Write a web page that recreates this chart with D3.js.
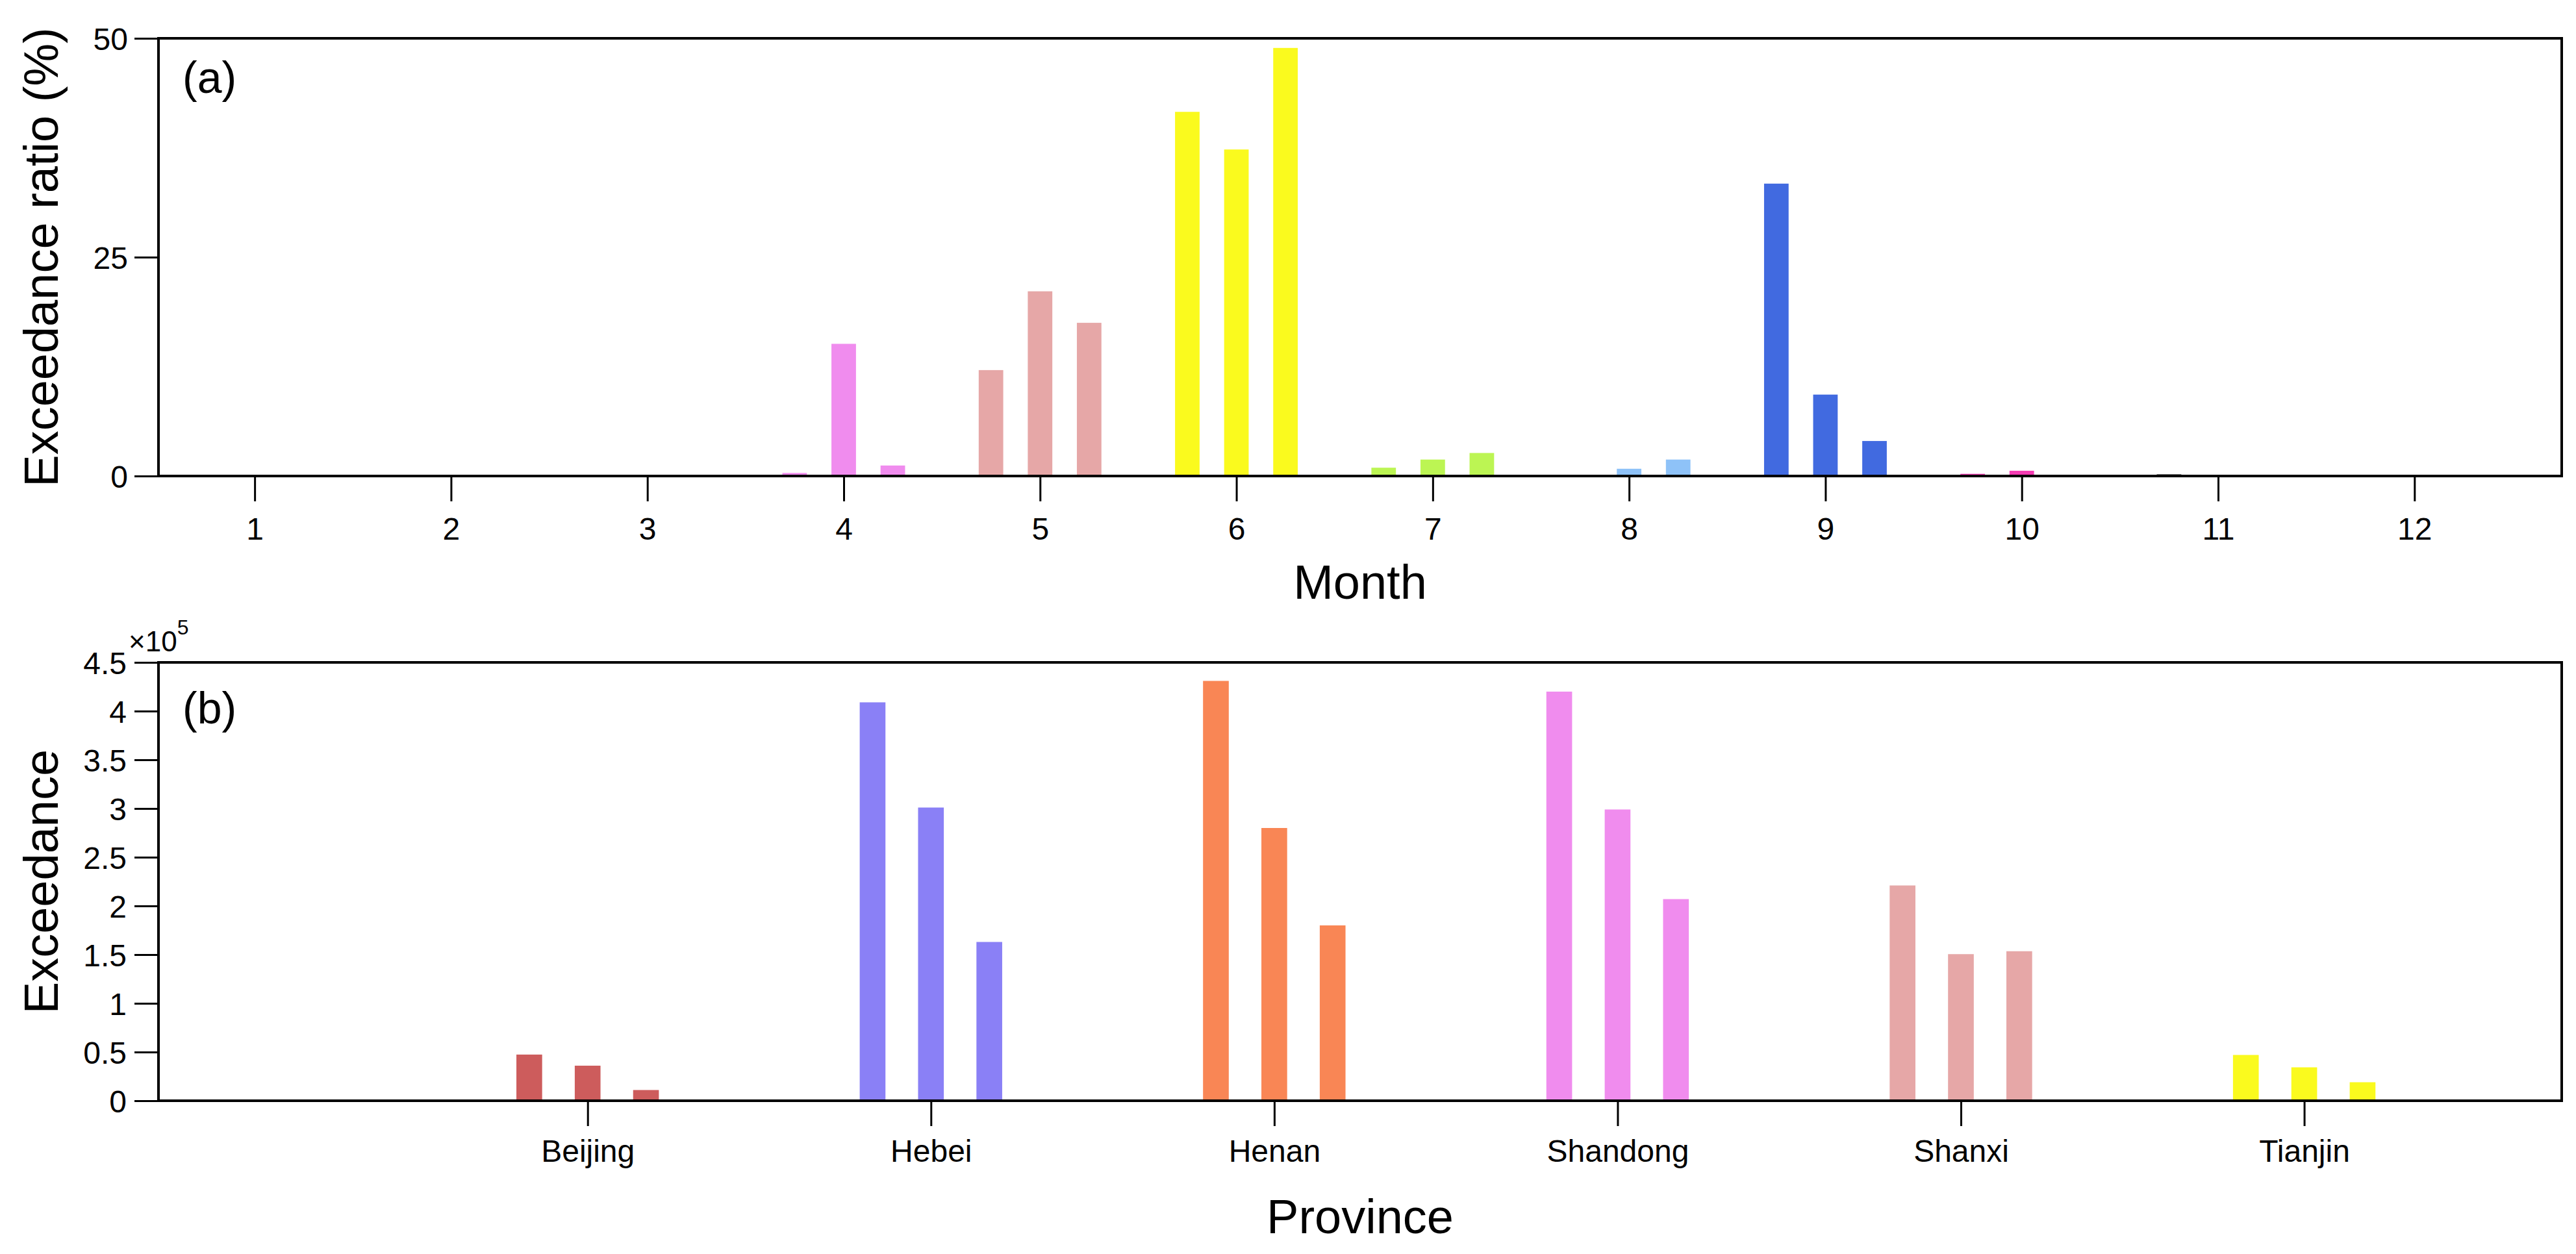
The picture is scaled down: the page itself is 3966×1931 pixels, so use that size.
<!DOCTYPE html>
<html>
    <head>
        <meta charset="UTF-8">
        <title>exceedance</title>
        <style type="text/css">
            body {
                margin: 0;
                background: #ffffff;
            }
            #chart text {
                font-family: "Liberation Sans", Arial, sans-serif;
                fill: #000000;
            }
        </style>
        <script src="https://d3js.org/d3.v7.min.js"></script>
    </head>
    <body>
        <div id="chart"></div>
        <script>
            // panel (a): exceedance ratio (%) per month, three bars per month
            const months = [1, 2, 3, 4, 5, 6, 7, 8, 9, 10, 11, 12];
            const ratioFirst  = [0, 0, 0, 0.35, 12.1, 41.6, 0.95, 0, 33.4, 0.25, 0.2, 0];
            const ratioSecond = [0, 0, 0, 15.1, 21.1, 37.3, 1.88, 0.83, 9.3, 0.6, 0, 0];
            const ratioThird  = [0, 0, 0, 1.2, 17.5, 48.9, 2.63, 1.88, 4.0, 0, 0, 0];
            const monthColors = ["#9a9a9a", "#9a9a9a", "#9a9a9a", "#f08cee", "#e6a7a7", "#fafa1e",
                                 "#bcf553", "#8ec2f8", "#416ae0", "#f43bb2", "#3a3a3a", "#9a9a9a"];
            const ratioTicks = [0, 25, 50];

            // panel (b): exceedance per province, three bars per province
            const provinces = ["Beijing", "Hebei", "Henan", "Shandong", "Shanxi", "Tianjin"];
            const excFirst  = [47400, 409000, 431000, 420000, 221000, 47000];
            const excSecond = [36000, 301000, 280000, 299000, 150500, 34300];
            const excThird  = [11000, 163000, 180000, 207000, 153500, 19000];
            const provinceColors = ["#cd5c5c", "#8a80f6", "#f98655", "#f08cee", "#e6a7a7", "#fafa1e"];
            const excTicks = [0, 50000, 100000, 150000, 200000, 250000, 300000, 350000, 400000, 450000];

            const W = 3966, H = 1931;
            const left = 244, right = 3944;

            const svg = d3.select("#chart").append("svg")
                .attr("width", W)
                .attr("height", H);

            function styleAxis(g) {
                g.select(".domain").remove();
                g.selectAll(".tick line").attr("stroke", "#000").attr("stroke-width", 3);
                g.selectAll(".tick text").attr("font-size", 48).attr("fill", "#000");
            }

            function drawBars(g, keys, series, offsets, colors, x, y, halfW) {
                series.forEach((vals, s) => {
                    g.selectAll(null)
                        .data(keys.map((k, i) => ({ k: k, v: vals[i], c: colors[i] })))
                        .enter().append("rect")
                        .attr("x", d => x(d.k + offsets[s] - halfW))
                        .attr("width", d => x(d.k + offsets[s] + halfW) - x(d.k + offsets[s] - halfW))
                        .attr("y", d => y(d.v))
                        .attr("height", d => y(0) - y(d.v))
                        .attr("fill", d => d.c);
                });
            }

            // ---------- panel (a) ----------
            const xa = d3.scaleLinear().domain([0.51, 12.75]).range([left, right]);
            const ya = d3.scaleLinear().domain([0, 50]).range([733, 59]);
            const ga = svg.append("g");

            drawBars(ga, months, [ratioFirst, ratioSecond, ratioThird], [-0.25, 0, 0.25],
                     monthColors, xa, ya, 0.0625);

            ga.append("g")
                .attr("transform", `translate(0, ${ya(0)})`)
                .call(d3.axisBottom(xa).tickValues(months).tickSize(39).tickPadding(25).tickFormat(d3.format("d")))
                .call(styleAxis);
            ga.append("g")
                .attr("transform", `translate(${left}, 0)`)
                .call(d3.axisLeft(ya).tickValues(ratioTicks).tickSize(37).tickPadding(10))
                .call(styleAxis)
                .selectAll(".tick text").attr("dy", "0.36em");

            ga.append("rect")
                .attr("x", left).attr("y", ya(50))
                .attr("width", right - left).attr("height", ya(0) - ya(50))
                .attr("fill", "none").attr("stroke", "#000").attr("stroke-width", 4);

            ga.append("text")
                .attr("x", 281).attr("y", 143)
                .attr("font-size", 68)
                .text("(a)");
            ga.append("text")
                .attr("x", (left + right) / 2).attr("y", 922)
                .attr("text-anchor", "middle")
                .attr("font-size", 74)
                .text("Month");
            ga.append("text")
                .attr("transform", `translate(89, ${(ya(0) + ya(50)) / 2}) rotate(-90)`)
                .attr("text-anchor", "middle")
                .attr("font-size", 74)
                .text("Exceedance ratio (%)");

            // ---------- panel (b) ----------
            const provIdx = provinces.map((p, i) => i + 1);
            const xb = d3.scaleLinear().domain([-0.25, 6.75]).range([left, right]);
            const yb = d3.scaleLinear().domain([0, 450000]).range([1695, 1020]);
            const gb = svg.append("g");

            drawBars(gb, provIdx, [excFirst, excSecond, excThird], [-0.17, 0, 0.17],
                     provinceColors, xb, yb, 0.0375);

            gb.append("g")
                .attr("transform", `translate(0, ${yb(0)})`)
                .call(d3.axisBottom(xb).tickValues(provIdx).tickSize(39).tickPadding(21)
                    .tickFormat(d => provinces[d - 1]))
                .call(styleAxis);
            gb.append("g")
                .attr("transform", `translate(${left}, 0)`)
                .call(d3.axisLeft(yb).tickValues(excTicks).tickSize(37).tickPadding(12)
                    .tickFormat(d => d3.format("~g")(d / 1e5)))
                .call(styleAxis)
                .selectAll(".tick text").attr("dy", "0.36em");

            gb.append("rect")
                .attr("x", left).attr("y", yb(450000))
                .attr("width", right - left).attr("height", yb(0) - yb(450000))
                .attr("fill", "none").attr("stroke", "#000").attr("stroke-width", 4);

            const mult = gb.append("text")
                .attr("x", 198).attr("y", 1003)
                .attr("font-size", 44);
            mult.append("tspan").text("\u00d710");
            mult.append("tspan").attr("font-size", 32).attr("dy", -26).text("5");

            gb.append("text")
                .attr("x", 281).attr("y", 1114)
                .attr("font-size", 68)
                .text("(b)");
            gb.append("text")
                .attr("x", (left + right) / 2).attr("y", 1899)
                .attr("text-anchor", "middle")
                .attr("font-size", 74)
                .text("Province");
            gb.append("text")
                .attr("transform", `translate(89, ${(yb(0) + yb(450000)) / 2}) rotate(-90)`)
                .attr("text-anchor", "middle")
                .attr("font-size", 74)
                .text("Exceedance");
        </script>
    </body>
</html>
